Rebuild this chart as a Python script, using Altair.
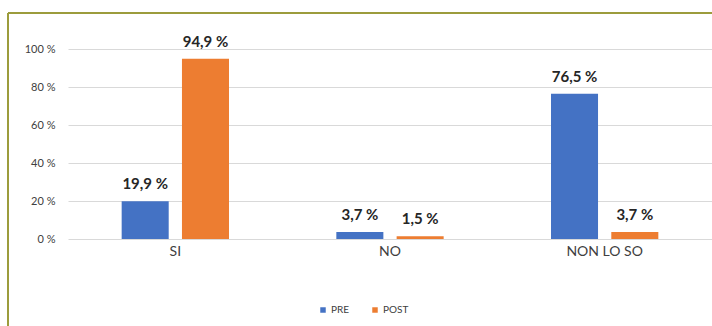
import altair as alt
import pandas as pd

categories = ["SI", "NO", "NON LO SO"]
series = ["PRE", "POST"]
pre_values = [19.9, 3.7, 76.5]
post_values = [94.9, 1.5, 3.7]
y_ticks = [0, 20, 40, 60, 80, 100]

rows = []
for c, v in zip(categories, pre_values):
    rows.append({"cat": c, "series": "PRE", "value": v})
for c, v in zip(categories, post_values):
    rows.append({"cat": c, "series": "POST", "value": v})
df = pd.DataFrame(rows)
df["label"] = df["value"].map(lambda v: f"{v:.1f}".replace(".", ",") + " %")

W, H = 644, 190
FONT = "Lato"

x = alt.X("cat:N", sort=categories, title=None,
          scale=alt.Scale(paddingInner=0.5, paddingOuter=0.25),
          axis=alt.Axis(labelAngle=0, domain=False, ticks=False, labelFontSize=14,
                        labelColor="#404040", labelFont=FONT, labelPadding=5, grid=False))
xo = alt.XOffset("series:N", sort=series, scale=alt.Scale(paddingInner=0.22))
y = alt.Y("value:Q", title=None,
          scale=alt.Scale(domain=[0, 100], nice=False),
          axis=alt.Axis(values=y_ticks, labelExpr="datum.value + ' %'", domain=False, ticks=False,
                        labelOverlap=False, labelFlush=False, tickCount=6,
                        labelFontSize=11, labelColor="#404040", labelFont=FONT, labelPadding=13,
                        gridColor="#d9d9d9", gridWidth=1))
color = alt.Color("series:N", sort=series,
                  scale=alt.Scale(domain=series, range=["#4472C4", "#ED7D31"]),
                  legend=alt.Legend(title=None, orient="none", direction="horizontal",
                                    legendX=250, legendY=256, symbolType="square", symbolSize=30,
                                    labelFontSize=10, labelFont=FONT, labelColor="#404040",
                                    columnPadding=20, symbolStrokeWidth=0, labelOffset=3))

bars = alt.Chart(df).mark_bar().encode(x=x, xOffset=xo, y=y, color=color)
labels = alt.Chart(df).mark_text(fontSize=15, fontWeight="bold", font=FONT, color="#262626",
                                 baseline="middle", dy=-17).encode(
    x=x, xOffset=xo, y=y, text="label:N")

border_df = pd.DataFrame({"k": [0]})
top_rule = alt.Chart(border_df).mark_rule(color="#9c9c3c", strokeWidth=2).encode(
    x=alt.value(-60), x2=alt.value(650), y=alt.value(-36))
left_rule = alt.Chart(border_df).mark_rule(color="#9c9c3c", strokeWidth=2).encode(
    x=alt.value(-60), y=alt.value(-36), y2=alt.value(290))

chart = alt.layer(bars, labels, top_rule, left_rule).properties(
    width=W, height=H,
    autosize=alt.AutoSizeParams(type="none"),
    padding={"left": 68, "top": 49, "right": 0, "bottom": 87},
    background="white",
).configure_view(stroke=None)

chart.save("out.html", embed_options={"renderer": "svg", "actions": False})
